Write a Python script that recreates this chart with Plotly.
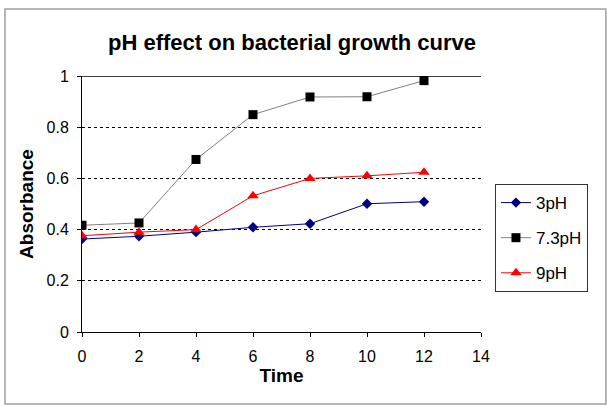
import plotly.graph_objects as go

time = [0, 2, 4, 6, 8, 10, 12]
ph3 = [0.363, 0.374, 0.39, 0.409, 0.423, 0.501, 0.509]
ph73 = [0.417, 0.426, 0.674, 0.849, 0.918, 0.919, 0.982]
ph9 = [0.376, 0.39, 0.40, 0.532, 0.60, 0.61, 0.624]
x_ticks = [0, 2, 4, 6, 8, 10, 12, 14]
y_ticks = [0, 0.2, 0.4, 0.6, 0.8, 1]

fig = go.Figure()
fig.add_trace(go.Scatter(x=time, y=ph3, name="3pH", mode="lines+markers", legendgroup="a",
                         line=dict(color="#000080", width=1),
                         marker=dict(symbol="diamond", size=8, color="#000080")))
fig.add_trace(go.Scatter(x=time, y=ph73, name="7.3pH", mode="lines+markers", legendgroup="b",
                         line=dict(color="#808080", width=1),
                         marker=dict(symbol="square", size=9, color="black")))
fig.add_trace(go.Scatter(x=time, y=ph9, name="9pH", mode="lines+markers", legendgroup="c",
                         line=dict(color="red", width=1),
                         marker=dict(symbol="triangle-up", size=10, color="red")))

fig.update_layout(
    width=607, height=406,
    margin=dict(l=82, r=126, t=76, b=74),
    paper_bgcolor="white", plot_bgcolor="white",
    font=dict(family="Arial, Liberation Sans, sans-serif", color="black", size=16),
    title=dict(text="<b>pH effect on bacterial growth curve</b>", x=292/607, xanchor="center",
               y=1 - 42/406, yanchor="middle", font=dict(size=22)),
    xaxis=dict(range=[0, 14], tickvals=x_ticks, ticks="outside", ticklen=4, tickcolor="black",
               showline=True, linecolor="black", linewidth=1, showgrid=False, zeroline=False,
               ticklabelstandoff=6,
               title=dict(text="<b>Time</b>", font=dict(size=19), standoff=4)),
    yaxis=dict(range=[0, 1], tickvals=y_ticks, ticks="outside", ticklen=4, tickcolor="black",
               showline=True, linecolor="black", linewidth=1, showgrid=True,
               gridcolor="black", griddash="dot", gridwidth=1, zeroline=False,
               ticklabelstandoff=5,
               title=dict(text="<b>Absorbance</b>", font=dict(size=19), standoff=7)),
    legend=dict(x=1.035, y=0.578, xanchor="left", yanchor="top", bordercolor="#333",
                borderwidth=1, bgcolor="white", tracegroupgap=10, font=dict(size=17),
                entrywidth=70),
    showlegend=True,
)
# top line at y=1
fig.add_shape(type="line", xref="paper", yref="y", x0=0, x1=1, y0=1, y1=1,
              line=dict(color="black", width=1.5))
# outer chart border
fig.add_shape(type="rect", xref="paper", yref="paper", x0=-0.193, x1=1.313, y0=-0.281, y1=1.262,
              line=dict(color="#a0a0a0", width=1.5))

fig.write_html("out.html")
